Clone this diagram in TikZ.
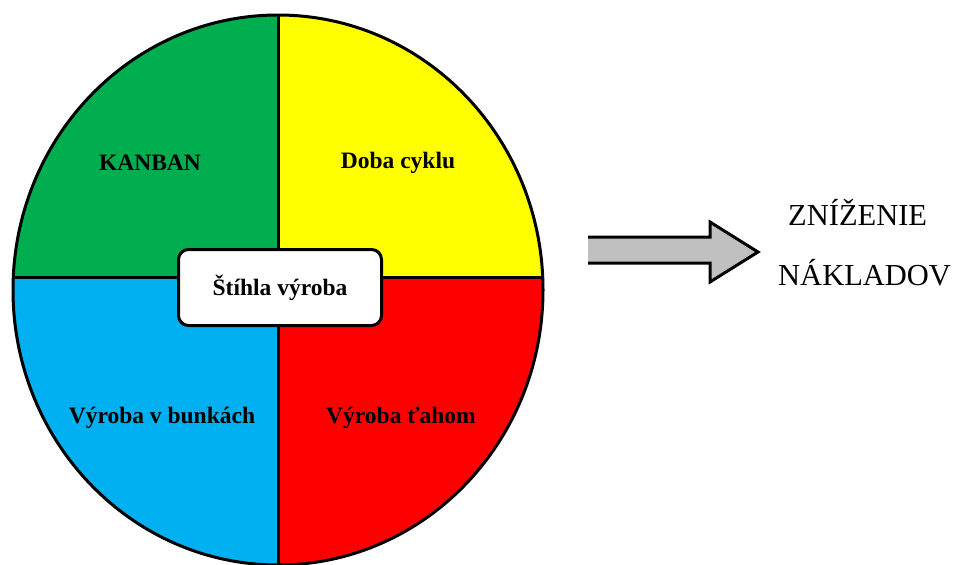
\documentclass[tikz,border=0pt]{standalone}
\usepackage{fontspec}
\setmainfont{Liberation Serif}
\definecolor{qgreen}{HTML}{00AE4F}
\definecolor{qyellow}{HTML}{FFFF00}
\definecolor{qblue}{HTML}{00B0F0}
\definecolor{qred}{HTML}{FF0000}
\definecolor{arrowgray}{HTML}{C0C0C0}
\begin{document}
\begin{tikzpicture}[x=1pt,y=-1pt,
  quadlabel/.style={font=\fontsize{23.5}{28}\selectfont\bfseries, text=black},
  bigtext/.style={font=\fontsize{30.5}{36}\selectfont, text=black, anchor=base west, inner sep=0pt},
  centerbox/.style={draw=black, line width=3pt, fill=white, rounded corners=10pt,
    minimum width=203pt, minimum height=76pt, font=\fontsize{23.5}{28}\selectfont\bfseries}]
\useasboundingbox (0,0) rectangle (964,565);
% quadrants
\begin{scope}
  \clip (278,290) ellipse [x radius=265, y radius=275];
  \fill[qgreen] (0,0) rectangle (278,277);
  \fill[qyellow] (278,0) rectangle (560,277);
  \fill[qblue] (0,277) rectangle (278,570);
  \fill[qred] (278,277) rectangle (560,570);
  \draw[line width=3pt] (278,0) -- (278,570);
  \draw[line width=3pt] (0,277) -- (560,277);
\end{scope}
\draw[line width=3pt] (278,290) ellipse [x radius=265, y radius=275];
% labels
\node[quadlabel] (kanban) at (150,163) {KANBAN};
\node[quadlabel] (doba) at (398,163) {Doba cyklu};
\node[quadlabel] (bunky) at (162,418) {Výroba v bunkách};
\node[quadlabel] (tah) at (401,418) {Výroba ťahom};
\node[centerbox] (center) at (280,287.5) {Štíhla výroba};
% block arrow
\fill[arrowgray] (588,237) -- (710,237) -- (710,222) -- (758,252) -- (710,282) -- (710,263) -- (588,263) -- cycle;
\draw[line width=3pt, line join=miter] (588,237) -- (710,237) -- (710,222) -- (758,252) -- (710,282) -- (710,263) -- (588,263);
% text
\node[bigtext] (zn) at (788,225) {ZNÍŽENIE};
\node[bigtext] (nak) at (778,285) {NÁKLADOV};
\end{tikzpicture}
\end{document}
